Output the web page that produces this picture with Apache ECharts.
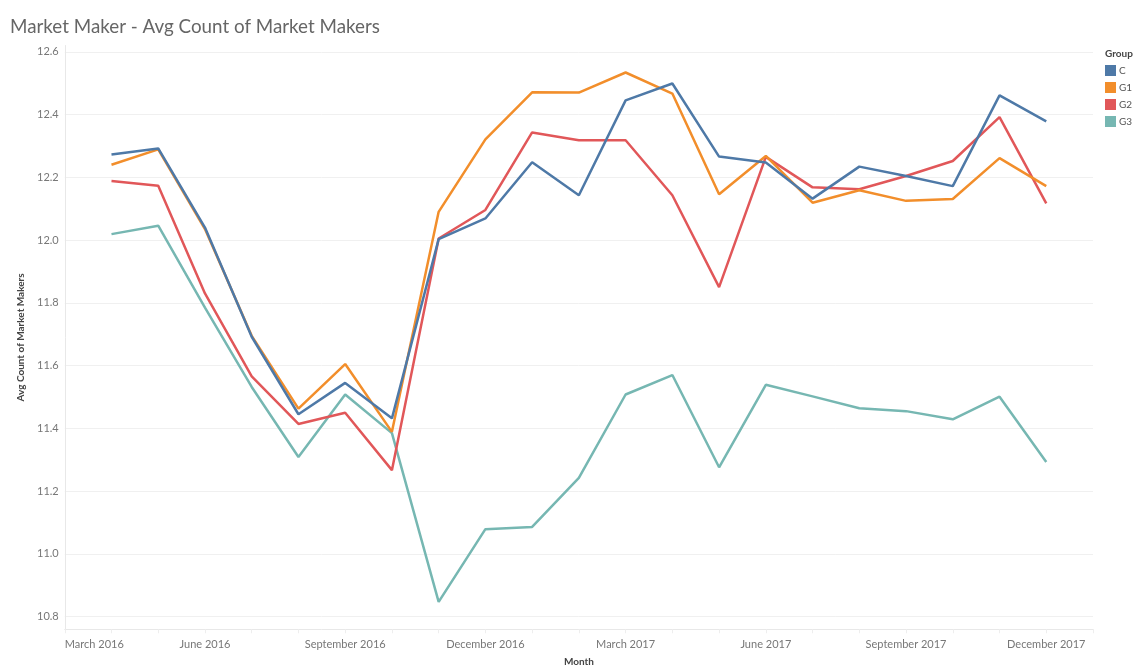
<!DOCTYPE html>
<html>
<head>
<meta charset="utf-8">
<script src="https://cdn.jsdelivr.net/npm/echarts@6/dist/echarts.min.js"></script>
<style>
html,body{margin:0;padding:0;background:#fff;}
#chart{width:1137px;height:669px;}
</style>
</head>
<body>
<div id="chart"></div>
<script>
const months = ['April 2016','May 2016','June 2016','July 2016','August 2016','September 2016','October 2016','November 2016','December 2016',
  'January 2017','February 2017','March 2017','April 2017','May 2017','June 2017','July 2017','August 2017','September 2017','October 2017','November 2017','December 2017'];
const axisMonths = ['March 2016', ...months, 'January 2018'];
const tickLabels = ['March 2016','June 2016','September 2016','December 2016','March 2017','June 2017','September 2017','December 2017'];
const groups = ['C','G1','G2','G3'];
const C  = [12.273,12.292,12.040,11.692,11.445,11.545,11.432,12.003,12.069,12.248,12.143,12.445,12.499,12.266,12.247,12.132,12.234,12.204,12.172,12.461,12.378];
const G1 = [12.240,12.289,12.035,11.695,11.463,11.605,11.389,12.090,12.321,12.471,12.470,12.534,12.467,12.146,12.268,12.119,12.159,12.125,12.131,12.261,12.172];
const G2 = [12.188,12.173,11.830,11.566,11.414,11.450,11.267,12.005,12.096,12.343,12.318,12.318,12.143,11.850,12.265,12.168,12.162,12.204,12.252,12.392,12.117];
const G3 = [12.019,12.046,11.785,11.532,11.309,11.508,11.385,10.847,11.079,11.086,11.242,11.508,11.570,11.276,11.539,11.502,11.464,11.455,11.429,11.501,11.293];
const colors = ['#4e79a7','#f28e2b','#e15759','#76b7b2'];
const values = [C, G1, G2, G3];

const chart = echarts.init(document.getElementById('chart'), null, {renderer:'canvas'});
const font = 'Lato, "Open Sans", sans-serif';
chart.setOption({
  animation:false,
  title:[
    {text:'Market Maker - Avg Count of Market Makers', left:5, top:12,
      textStyle:{fontFamily:font, fontSize:18.8, fontWeight:'normal', color:'#666'}},
    {text:'Group', left:1100, top:44,
      textStyle:{fontFamily:font, fontSize:10, fontWeight:'bold', color:'#444'}}
  ],
  legend:{
    orient:'vertical', left:1100, top:60, icon:'rect', itemWidth:11, itemHeight:11, itemGap:6,
    data:groups, textStyle:{fontFamily:font, fontSize:10, color:'#555', padding:[0,0,0,-2]}
  },
  grid:{left:64.75, right:44, top:45.5, bottom:39.75, containLabel:false, outerBoundsMode:'none'},
  xAxis:{
    type:'category', data:axisMonths, boundaryGap:false,
    name:'Month', nameLocation:'middle', nameGap:28,
    nameTextStyle:{fontFamily:font, fontSize:10, fontWeight:'bold', color:'#444'},
    axisLine:{show:true, lineStyle:{color:'#e8e8e8'}},
    axisTick:{show:true, interval:0, length:4, lineStyle:{color:'#eeeeee'}},
    axisLabel:{
      interval:(i, v)=> tickLabels.indexOf(v) >= 0,
      alignMinLabel:'left', margin:10,
      fontFamily:font, fontSize:11, color:'#777'
    },
    splitLine:{show:false}
  },
  yAxis:{
    type:'value', min:10.76, max:12.62, splitNumber:9,
    name:'Avg Count of Market Makers', nameLocation:'middle', nameGap:38, nameRotate:90,
    nameTextStyle:{fontFamily:font, fontSize:10, fontWeight:'bold', color:'#444'},
    axisLine:{show:true, lineStyle:{color:'#e8e8e8'}},
    axisTick:{show:false},
    axisLabel:{
      showMinLabel:false, showMaxLabel:false, margin:6,
      formatter:(v)=> Math.abs(v*5 - Math.round(v*5)) < 1e-6 ? v.toFixed(1) : '',
      fontFamily:font, fontSize:11, color:'#777'
    },
    splitLine:{show:true, showMinLine:false, showMaxLine:false, lineStyle:{color:'#f0f0f0', width:1}}
  },
  series: groups.map((g, k)=>({
    name:g, type:'line', showSymbol:false, symbol:'none',
    z: 10 - k,
    itemStyle:{color:colors[k]},
    lineStyle:{color:colors[k], width:2.5},
    data: months.map((m, i)=>[m, values[k][i]])
  }))
});
</script>
</body>
</html>
